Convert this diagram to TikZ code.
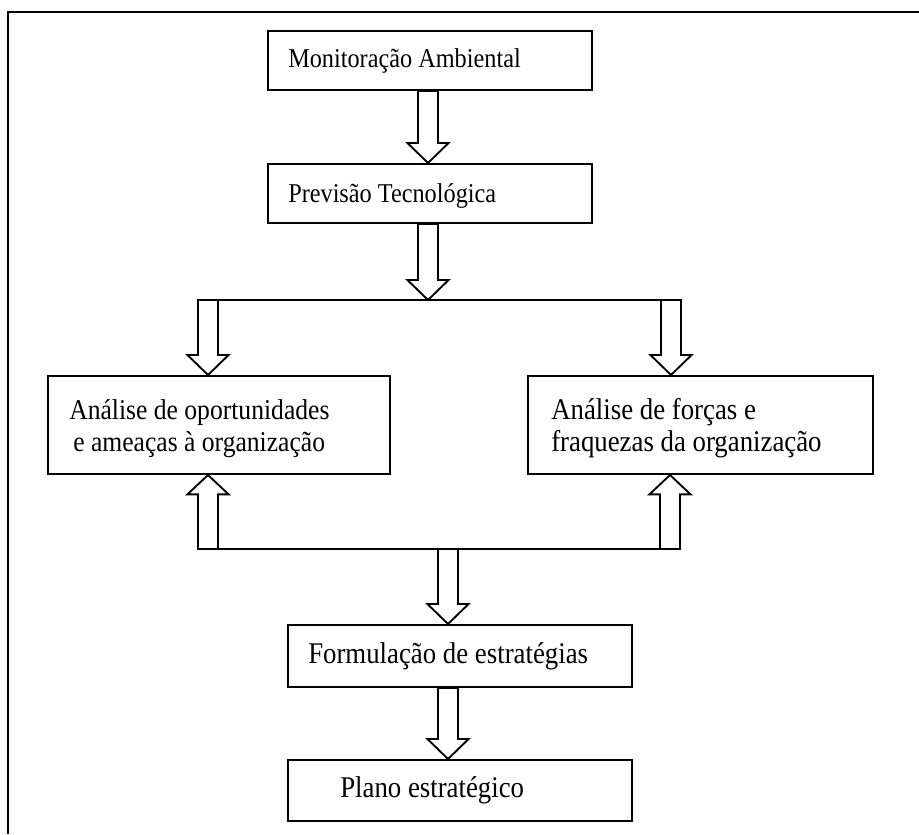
\documentclass[tikz,border=0pt]{standalone}
\usepackage{fontspec}
\setmainfont{Liberation Serif}
\usetikzlibrary{calc,fit}

% hollow block arrow pointing down: #1 = horizontal shift (px) of the shaft,
% #2 = start point/anchor, #3 = anchor whose height the tip reaches
\newcommand\blockdown[3]{%
  \draw[blk] let \p1=($(#2)+(#1,0)$), \p2=(#3) in
    (\x1-7.5pt,\y1) -- (\x1-7.5pt,\y2+15pt) -- (\x1-15.4pt,\y2+15pt) -- (\x1,\y2)
    -- (\x1+15.4pt,\y2+15pt) -- (\x1+7.5pt,\y2+15pt) -- (\x1+7.5pt,\y1) -- cycle;}
% hollow block arrow pointing up
\newcommand\blockup[3]{%
  \draw[blk] let \p1=($(#2)+(#1,0)$), \p2=(#3) in
    (\x1-7.5pt,\y1) -- (\x1-7.5pt,\y2-14.5pt) -- (\x1-15.4pt,\y2-14.5pt) -- (\x1,\y2)
    -- (\x1+15.4pt,\y2-14.5pt) -- (\x1+7.5pt,\y2-14.5pt) -- (\x1+7.5pt,\y1) -- cycle;}
\newcommand\tall[1]{\scalebox{1}[1.12]{#1}}

\begin{document}
\begin{tikzpicture}[x=0.75pt,y=-0.75pt,
  box/.style={draw, line width=1.5pt, inner sep=0pt},
  txt/.style={anchor=base west, inner sep=0pt, font=\fontsize{18.2}{20}\selectfont},
  txtb/.style={anchor=base west, inner sep=0pt, font=\fontsize{20.1}{22}\selectfont},
  txtc/.style={anchor=base west, inner sep=0pt, font=\fontsize{19.2}{22}\selectfont},
  blk/.style={line width=1.4pt, fill=white, line join=miter},
  bus/.style={line width=1.4pt},
  frame/.style={line width=1.7pt}]

\useasboundingbox (0,0) rectangle (919,834);
\fill[white] (0,0) rectangle (919,834);

% page frame (top and left sides)
\draw[frame] (8,834) -- (8,12) -- (919,12);

% boxes
\node[box, fit={(268,31) (592,90)}]   (mon) {};
\node[box, fit={(268,164) (592,223)}] (prev) {};
\node[box, fit={(48,376) (390,474)}]  (opor) {};
\node[box, fit={(528,376) (873,474)}] (forc) {};
\node[box, fit={(288,625) (632,687)}] (form) {};
\node[box, fit={(288,760) (632,821)}] (plano) {};

% texts
\node[txt]  (tmon)  at (288,68)  {\tall{Monitoração Ambiental}};
\node[txt]  (tprev) at (288,202) {\tall{Previsão Tecnológica}};
\node[txtc] (topa)  at (69,419)  {\tall{Análise de oportunidades}};
\node[txtc] (topb)  at (73,451)  {\tall{e ameaças à organização}};
\node[txtb] (tfora) at (551,419) {\tall{Análise de forças e}};
\node[txtb] (tforb) at (551,451) {\tall{fraquezas da organização}};
\node[txtb] (tform) at (308,663) {\tall{Formulação de estratégias}};
\node[txtb] (tplan) at (340,797) {\tall{Plano estratégico}};

% branching lines
\coordinate (tbL) at (198,300);
\coordinate (tbR) at (681,300);
\coordinate (tbM) at (428,300);
\coordinate (tb1) at (208,300);
\coordinate (tb2) at (671,300);
\coordinate (bbL) at (198,549);
\coordinate (bbR) at (680,549);
\coordinate (bb1) at (208,549);
\coordinate (bb2) at (670,549);
\coordinate (bbM) at (448,549);

\blockdown{-2}{mon.south}{prev.north}
\blockdown{-2}{prev.south}{tbM}
\blockdown{0}{tb1}{opor.north}
\blockdown{0}{tb2}{forc.north}
\draw[bus] (tbL) -- (tbR);

\blockup{0}{bb1}{opor.south}
\blockup{0}{bb2}{forc.south}
\blockdown{0}{bbM}{form.north}
\draw[bus] (bbL) -- (bbR);

\blockdown{-12}{form.south}{plano.north}
\end{tikzpicture}
\end{document}
